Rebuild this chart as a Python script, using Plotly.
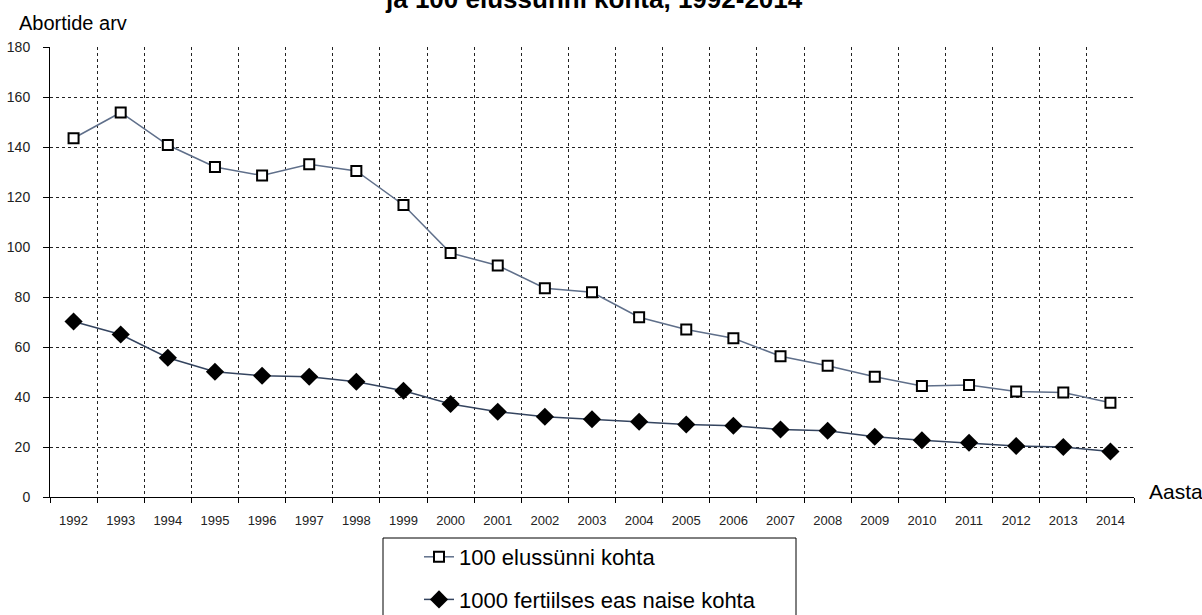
import plotly.graph_objects as go

years = list(range(1992, 2015))
per_100_births = [143.5, 153.8, 140.8, 132.0, 128.6, 133.1, 130.4, 116.8, 97.6, 92.6,
                  83.5, 81.9, 71.9, 67.0, 63.5, 56.3, 52.5, 48.1, 44.4, 44.8, 42.2, 41.8, 37.7]
per_1000_women = [70.2, 65.0, 55.7, 50.1, 48.5, 48.1, 46.1, 42.5, 37.2, 34.1,
                  32.1, 31.1, 30.1, 29.0, 28.5, 27.0, 26.5, 24.1, 22.7, 21.7, 20.4, 20.0, 18.2]
series_names = ["100 elussünni kohta", "1000 fertiilses eas naise kohta"]
y_ticks = list(range(0, 181, 20))

W, H = 1202, 615
L, R, T, B = 50, 68, 47, 118
PW, PH = W - L - R, H - T - B

def px_x(x):
    return (x - L) / PW

def px_y(y):
    return (H - B - y) / PH

fig = go.Figure()
fig.add_trace(go.Scatter(
    x=years, y=per_100_births, name=series_names[0], mode="lines+markers",
    line=dict(color="#5f6f8a", width=1.5),
    marker=dict(symbol="square", size=10, color="white", line=dict(color="black", width=2)),
    legendgroup="a",
))
fig.add_trace(go.Scatter(
    x=years, y=per_1000_women, name=series_names[1], mode="lines+markers",
    line=dict(color="#34445f", width=1.5),
    marker=dict(symbol="diamond", size=14, color="black", line=dict(color="black", width=0)),
    legendgroup="b",
))

x_tick_font = dict(family="Liberation Sans Narrow, Arial Narrow, Liberation Sans, Arial", size=13, color="#222")
y_tick_font = dict(family="Liberation Sans Narrow, Arial Narrow, Liberation Sans, Arial", size=14, color="#222")
text_font = dict(family="Liberation Sans, Arial, sans-serif", color="black")

fig.update_layout(
    width=W, height=H,
    margin=dict(l=L, r=R, t=T, b=B, autoexpand=False),
    paper_bgcolor="white", plot_bgcolor="white",
    showlegend=True,
    legend=dict(
        x=px_x(419), y=px_y(536), xanchor="left", yanchor="top",
        font=dict(family="Liberation Sans, Arial, sans-serif", size=22, color="black"),
        bgcolor="rgba(0,0,0,0)", borderwidth=0, tracegroupgap=11,
    ),
    xaxis=dict(
        range=[1991.5, 2014.5], tickmode="array", tickvals=years,
        ticktext=[str(y) for y in years], ticks="", showgrid=False,
        tickfont=x_tick_font, ticklabelstandoff=11,
        showline=True, linecolor="black", linewidth=1, zeroline=False,
        minor=dict(tick0=1991.5, dtick=1, showgrid=True, gridcolor="#222",
                   griddash="dot", gridwidth=1, ticks="outside", ticklen=5,
                   tickcolor="black"),
    ),
    yaxis=dict(
        range=[0, 180], tickmode="array", tickvals=y_ticks,
        showgrid=True, gridcolor="#222", griddash="dot", gridwidth=1,
        ticks="outside", ticklen=6, tickcolor="black", tickfont=y_tick_font,
        ticklabelstandoff=10,
        showline=True, linecolor="black", linewidth=1, zeroline=False,
    ),
    shapes=[dict(type="rect", xref="paper", yref="paper",
                 x0=px_x(383), x1=px_x(796), y0=px_y(538), y1=px_y(625),
                 line=dict(color="black", width=1), fillcolor="rgba(0,0,0,0)", layer="above")],
    annotations=[
        dict(text="<b>ja 100 elussünni kohta, 1992-2014</b>", xref="paper", yref="paper",
             x=px_x(594), y=px_y(-1), xanchor="center", yanchor="middle", showarrow=False,
             font=dict(text_font, size=26)),
        dict(text="Abortide arv", xref="paper", yref="paper",
             x=px_x(17), y=px_y(23), xanchor="left", yanchor="middle", showarrow=False,
             font=dict(text_font, size=20)),
        dict(text="Aasta", xref="paper", yref="paper",
             x=px_x(1147), y=px_y(491), xanchor="left", yanchor="middle", showarrow=False,
             font=dict(text_font, size=21)),
    ],
)

fig.write_html("out.html", config={"displayModeBar": False},
               post_script="document.body.style.margin='0';document.body.style.overflow='hidden';")
